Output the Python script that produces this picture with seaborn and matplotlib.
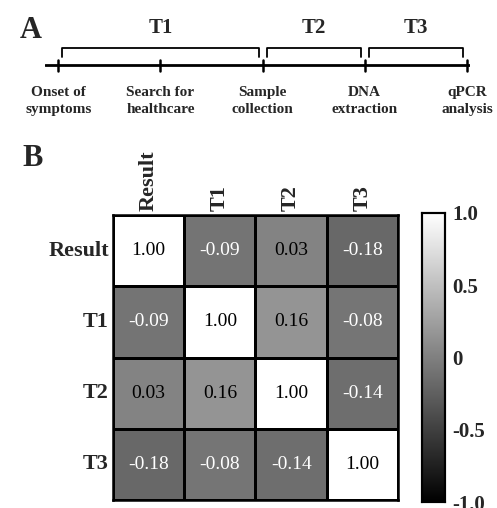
import numpy as np
import pandas as pd
import seaborn as sns
import matplotlib.pyplot as plt

# panel A: timeline
events = ['Onset of\nsymptoms', 'Search for\nhealthcare', 'Sample\ncollection',
          'DNA\nextraction', 'qPCR\nanalysis']
periods = ['T1', 'T2', 'T3']
period_start = [0, 2, 3]
period_end = [2, 3, 4]

# panel B: correlation matrix
variables = ['Result', 'T1', 'T2', 'T3']
corr = [[1.00, -0.09, 0.03, -0.18],
        [-0.09, 1.00, 0.16, -0.08],
        [0.03, 0.16, 1.00, -0.14],
        [-0.18, -0.08, -0.14, 1.00]]
cbar_ticks = [-1.0, -0.5, 0, 0.5, 1.0]
cbar_labels = ['-1.0', '-0.5', '0', '0.5', '1.0']

sns.set_style('white')
plt.rcParams['font.family'] = ['Liberation Serif', 'DejaVu Serif']

W, H = 497, 508
fig = plt.figure(figsize=(W / 100, H / 100), dpi=100)

def box(x0, y0, x1, y1):
    return [x0 / W, 1 - y1 / H, (x1 - x0) / W, (y1 - y0) / H]

# ---- panel A
axa = fig.add_axes(box(45, 20, 470, 115))
axa.set_xlim(-0.13, 4.03)
axa.set_ylim(-1.1, 1.0)
axa.axis('off')
xs = np.arange(len(events))
axa.plot([xs[0] - 0.13, xs[-1] + 0.03], [0, 0], color='black', lw=2)
for x, lab in zip(xs, events):
    axa.plot([x, x], [-0.12, 0.12], color='black', lw=1.8)
    axa.text(x, -0.45, lab, ha='center', va='top', fontsize=11,
             fontweight='bold', linespacing=1.45)
for lab, s, e in zip(periods, period_start, period_end):
    x0, x1 = s + 0.04, e - 0.04
    axa.plot([x0, x0, x1, x1], [0.18, 0.38, 0.38, 0.18], color='black', lw=1.3)
    axa.text((s + e) / 2, 0.6, lab, ha='center', va='bottom', fontsize=15,
             fontweight='bold')
fig.text(20 / W, 1 - 30 / H, 'A', fontsize=22, fontweight='bold', va='center')
fig.text(22 / W, 1 - 158 / H, 'B', fontsize=22, fontweight='bold', va='center')

# ---- panel B
df = pd.DataFrame(corr, index=variables, columns=variables)
ax = fig.add_axes(box(113, 215, 398, 500))
cax = fig.add_axes(box(422, 213, 445, 502))
sns.heatmap(df, ax=ax, cbar_ax=cax, cmap='gray', vmin=-1, vmax=1,
            annot=True, fmt='.2f', annot_kws={'fontsize': 14},
            linewidths=1, linecolor='black', square=False)
for t in ax.texts:
    v = float(t.get_text())
    t.set_color('black' if v >= 0 else 'white')
ax.xaxis.tick_top()
ax.set_xticklabels(variables, rotation=90, fontsize=16, fontweight='bold')
ax.set_yticklabels(variables, rotation=0, fontsize=16, fontweight='bold')
ax.tick_params(length=0, pad=3)
ax.set_xlabel('')
ax.set_ylabel('')
for sp in ax.spines.values():
    sp.set_visible(True)
    sp.set_linewidth(1.8)
    sp.set_color('black')

cax.set_yticks(cbar_ticks)
cax.set_yticklabels(cbar_labels, fontsize=15, fontweight='bold')
cax.tick_params(left=True, right=True, direction='in', length=3, width=1.2,
                pad=5)
for sp in cax.spines.values():
    sp.set_visible(True)
    sp.set_linewidth(1.5)
    sp.set_color('black')

fig.savefig('out.png', dpi=100)
